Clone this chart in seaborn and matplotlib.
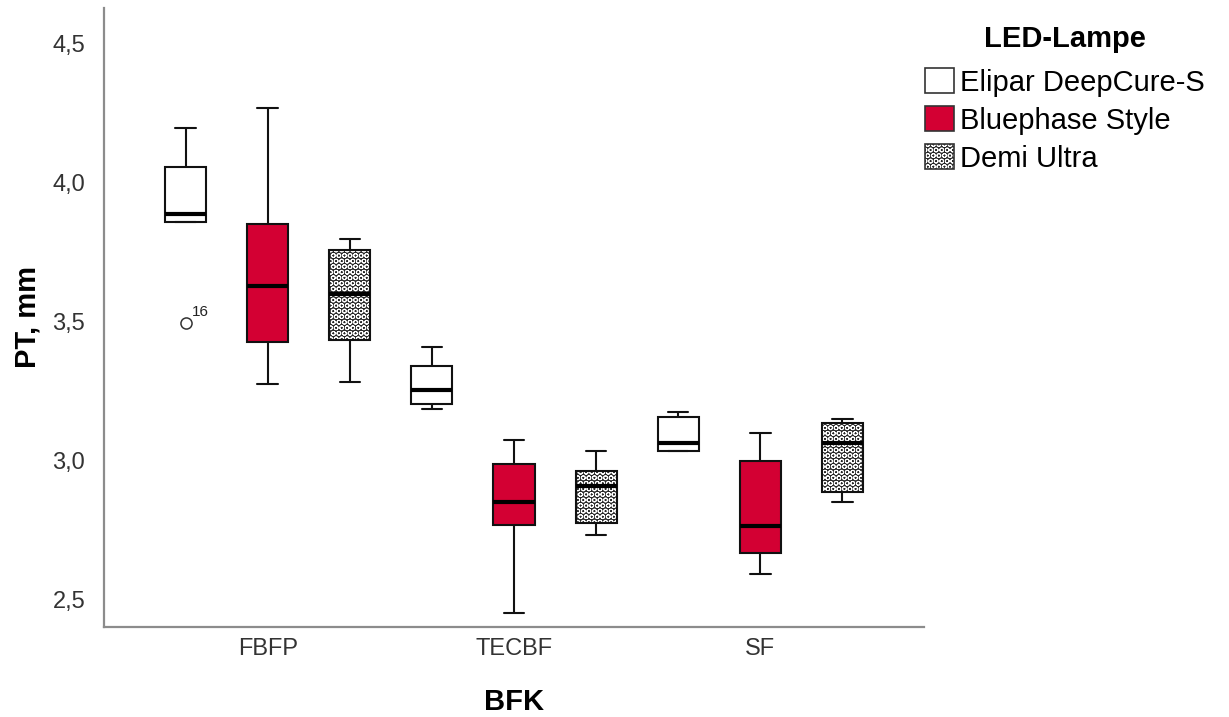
import numpy as np
import pandas as pd
import matplotlib
matplotlib.use("Agg")
import matplotlib.pyplot as plt
from matplotlib.patches import Patch, PathPatch
import seaborn as sns

# ---------------- data ----------------
categories = ["FBFP", "TECBF", "SF"]
lamps = ["Elipar DeepCure-S", "Bluephase Style", "Demi Ultra"]

# five-number summaries per category: [whisker low, Q1, median, Q3, whisker high]
elipar_stats = [[3.856, 3.856, 3.885, 4.056, 4.194],
                [3.186, 3.204, 3.254, 3.340, 3.408],
                [3.035, 3.035, 3.064, 3.157, 3.175]]
bluephase_stats = [[3.274, 3.425, 3.629, 3.849, 4.266],
                   [2.453, 2.769, 2.852, 2.988, 3.075],
                   [2.593, 2.669, 2.766, 2.999, 3.100]]
demi_stats = [[3.284, 3.434, 3.598, 3.757, 3.795],
              [2.733, 2.776, 2.909, 2.963, 3.035],
              [2.852, 2.888, 3.064, 3.136, 3.150]]

# outliers: (category, lamp, value, case label)
outlier_cat = ["FBFP"]
outlier_lamp = ["Elipar DeepCure-S"]
outlier_val = [3.494]
outlier_lbl = ["16"]

ytick_values = [2.5, 3.0, 3.5, 4.0, 4.5]
ytick_labels = ["2,5", "3,0", "3,5", "4,0", "4,5"]

lamp_colors = ["#FFFFFF", "#D30033", "#262626"]

# ---------------- build observations reproducing the summaries ----------------
all_stats = dict(zip(lamps, [elipar_stats, bluephase_stats, demi_stats]))
rows = []
for lamp in lamps:
    for cat, st in zip(categories, all_stats[lamp]):
        lo, q1, med, q3, hi = st
        outs = [v for c, l, v in zip(outlier_cat, outlier_lamp, outlier_val)
                if c == cat and l == lamp]
        if outs:
            # low whisker coincides with Q1 here; 7 points keep the quartiles exact
            sample = outs + [lo, q1, med, q3, q3, hi]
        else:
            sample = [lo, q1, med, q3, hi]
        for v in sample:
            rows.append({"BFK": cat, "Lampe": lamp, "PT": v})
df = pd.DataFrame(rows)

# ---------------- style ----------------
sns.set_theme(style="white")
plt.rcParams["font.family"] = ["Liberation Sans", "DejaVu Sans"]
plt.rcParams["hatch.linewidth"] = 0.7

W, H = 1229, 717
fig = plt.figure(figsize=(W / 100, H / 100), dpi=100)
ax = fig.add_axes([104 / W, 1 - 627 / H, 820 / W, 619 / H])

palette = dict(zip(lamps, lamp_colors))
sns.boxplot(
    data=df, x="BFK", y="PT", hue="Lampe",
    order=categories, hue_order=lamps, palette=palette,
    saturation=1, width=1.0, gap=0.5, whis=1.5,
    linecolor="#111111", linewidth=1.5,
    medianprops=dict(linewidth=3.0, color="#000000"),
    flierprops=dict(marker="o", markersize=8, markerfacecolor="white",
                    markeredgecolor="#333333", markeredgewidth=1.1),
    legend=False, ax=ax,
)

HATCH = "OOO"
# checkered-circle pattern for Demi Ultra boxes
demi_rgb = matplotlib.colors.to_rgba(palette["Demi Ultra"])
for p in list(ax.patches):
    fc = p.get_facecolor()
    if np.allclose(fc[:3], demi_rgb[:3], atol=0.02):
        p.set_hatch(HATCH)
        p.set_edgecolor("white")
        outline = PathPatch(p.get_path(), transform=p.get_transform(),
                            fill=False, edgecolor="#111111", linewidth=1.5,
                            zorder=p.get_zorder() + 0.05)
        ax.add_patch(outline)

# outlier case labels
n = len(lamps)
for c, l, v, t in zip(outlier_cat, outlier_lamp, outlier_val, outlier_lbl):
    xpos = categories.index(c) + (lamps.index(l) - (n - 1) / 2) * (1.0 / n)
    ax.annotate(t, xy=(xpos, v), xytext=(4.5, 5.5), textcoords="offset points",
                fontsize=11, ha="left", va="baseline", color="#222222")

# axes
ax.set_xlim(-0.665, 2.665)
ax.set_ylim(2.403, 4.626)
ax.set_yticks(ytick_values)
ax.set_yticklabels(ytick_labels)
ax.tick_params(axis="both", length=0, labelsize=17, labelcolor="#333333")
ax.tick_params(axis="y", pad=13.5)
ax.tick_params(axis="x", pad=8)
for s in ["top", "right"]:
    ax.spines[s].set_visible(False)
for s in ["left", "bottom"]:
    ax.spines[s].set_color("#8c8c8c")
    ax.spines[s].set_linewidth(1.6)
ax.grid(False)

ax.set_xlabel("BFK", fontsize=21, fontweight="bold", color="black")
ax.set_ylabel("PT, mm", fontsize=21, fontweight="bold", color="black")
ax.xaxis.set_label_coords(0.5, (627 - 702) / 619)
ax.xaxis.label.set_verticalalignment("center")
ax.yaxis.set_label_coords((27 - 104) / 820, 0.5)
ax.yaxis.label.set_verticalalignment("center")

# legend
handles = [
    Patch(facecolor=lamp_colors[0], edgecolor="#333333", linewidth=1.2),
    Patch(facecolor=lamp_colors[1], edgecolor="#333333", linewidth=1.2),
    (Patch(facecolor=lamp_colors[2], edgecolor="white", hatch=HATCH, linewidth=0),
     Patch(fill=False, edgecolor="#333333", linewidth=1.2)),
]
leg = fig.legend(
    handles, lamps, title="LED-Lampe",
    loc="upper left", bbox_to_anchor=(925 / W, 1 - 25 / H),
    frameon=False, fontsize=21, title_fontproperties=dict(size=21, weight="bold"),
    handlelength=1.0, handleheight=0.95, handletextpad=0.2,
    labelspacing=0.32, borderpad=0, borderaxespad=0,
)
leg._legend_box.sep = 11
for t in leg.get_texts():
    t.set_color("black")
leg.get_title().set_color("black")

fig.savefig("out.png", dpi=100)
